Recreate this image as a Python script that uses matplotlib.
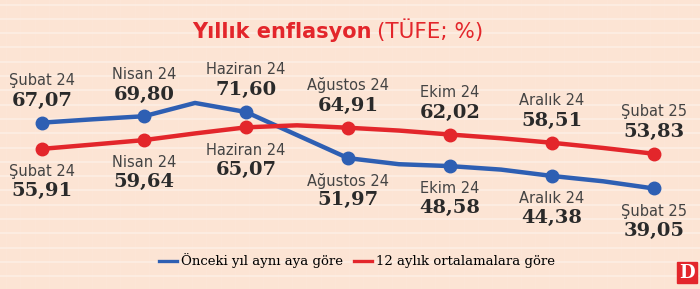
import numpy as np
import matplotlib
matplotlib.use("Agg")
import matplotlib.pyplot as plt
from matplotlib.lines import Line2D
from matplotlib.patches import Rectangle

# ---- data ----
months = ["Şubat 24", "Mart 24", "Nisan 24", "Mayıs 24", "Haziran 24", "Temmuz 24",
          "Ağustos 24", "Eylül 24", "Ekim 24", "Kasım 24", "Aralık 24", "Ocak 25", "Şubat 25"]
annual = [67.07, 68.50, 69.80, 75.45, 71.60, 61.78, 51.97, 49.38, 48.58, 47.09, 44.38, 42.12, 39.05]
avg12 = [55.91, 57.75, 59.64, 62.48, 65.07, 65.93, 64.91, 63.70, 62.02, 60.43, 58.51, 56.30, 53.83]
series_labels = ["Önceki yıl aynı aya göre", "12 aylık ortalamalara göre"]
title_bold = "Yıllık enflasyon"
title_norm = "(TÜFE; %)"

BLUE = "#2e5fb3"
RED = "#e3262b"
BG = "#fce4d4"
TXT = "#2a2a2a"
LBL = "#444444"

W, H = 700, 289
fig = plt.figure(figsize=(W / 100, H / 100), dpi=100, facecolor=BG)
ax = fig.add_axes([0, 0, 1, 1])
ax.set_facecolor("none")
for s in ax.spines.values():
    s.set_visible(False)
ax.set_xticks([])
ax.set_yticks([])

# background texture (faint paper stripes)
for yp in np.arange(4.5, H, 14.3):
    fig.add_artist(Line2D([0, 1], [1 - yp / H] * 2, transform=fig.transFigure,
                          color="#fdefe6", lw=1.1, zorder=-5))
for xp in np.arange(6, W, 14.3):
    fig.add_artist(Line2D([xp / W] * 2, [0, 1], transform=fig.transFigure,
                          color="#fce6d7", lw=0.7, zorder=-6))

x = np.arange(len(months))
px_per_month = 51.0
ax.set_xlim(-42 / px_per_month, 12 + (W - 654) / px_per_month)
scale = 2.35
ax.set_ylim(71.6 - (H - 112) / scale, 71.6 + 112 / scale)

ax.plot(x, annual, color=BLUE, lw=3.2, marker="o", ms=9, markevery=2,
        solid_joinstyle="round", zorder=3)
ax.plot(x, avg12, color=RED, lw=3.2, marker="o", ms=9, markevery=2,
        solid_joinstyle="round", zorder=3)

month_font = dict(family=["DejaVu Sans"], fontsize=10.5, color=LBL)
num_font = dict(family=["DejaVu Serif"], fontweight="bold", fontsize=14, color=TXT)

for i in range(0, len(months), 2):
    a, b = annual[i], avg12[i]
    up, lo = (a, b) if a >= b else (b, a)
    ax.annotate(months[i], (x[i], up), xytext=(0, 27), textcoords="offset points",
                ha="center", va="baseline", **month_font)
    ax.annotate(f"{up:.2f}".replace(".", ","), (x[i], up), xytext=(0, 12),
                textcoords="offset points", ha="center", va="baseline", **num_font)
    ax.annotate(months[i], (x[i], lo), xytext=(0, -11), textcoords="offset points",
                ha="center", va="top", **month_font)
    ax.annotate(f"{lo:.2f}".replace(".", ","), (x[i], lo), xytext=(0, -34),
                textcoords="offset points", ha="center", va="baseline", **num_font)

# title
fig.text(372 / W, 1 - 38 / H, title_bold, ha="right", va="baseline", color=RED,
         fontsize=15, fontweight="bold", family="DejaVu Sans")
fig.text(377 / W, 1 - 38 / H, title_norm, ha="left", va="baseline", color=RED,
         fontsize=15.5, family="DejaVu Sans")

# legend
handles = [Line2D([], [], color=BLUE, lw=2.4), Line2D([], [], color=RED, lw=2.4)]
ax.legend(handles, series_labels, ncol=2, loc="center", bbox_to_anchor=(357 / W, 1 - 261 / H),
          frameon=False, handlelength=1.4, handletextpad=0.3, columnspacing=0.8,
          prop=dict(family="DejaVu Serif", size=9.5))

# logo
fig.add_artist(Rectangle((677 / W, 1 - 283 / H), 20 / W, 21 / H, transform=fig.transFigure,
                         color=RED, zorder=5))
fig.text(687 / W, 1 - 273 / H, "D", ha="center", va="center", color="white",
         fontsize=13, fontweight="bold", family="DejaVu Serif", zorder=6)

fig.savefig("out.png", dpi=100, facecolor=BG)
